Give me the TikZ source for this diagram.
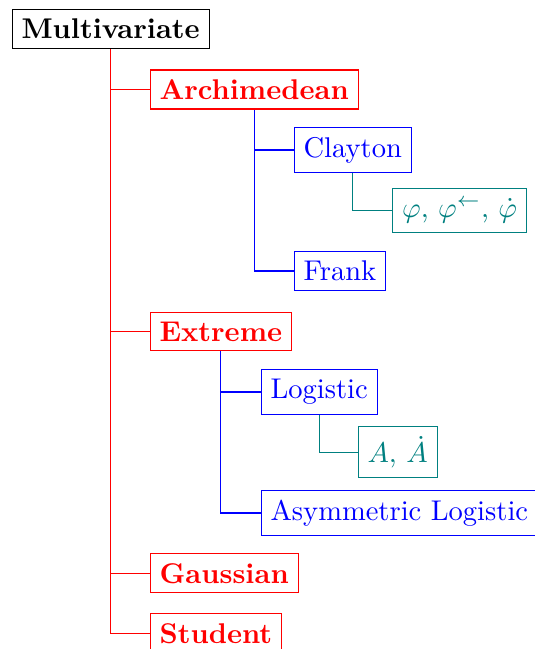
\documentclass[tikz,border=0pt]{standalone}
\begin{document}
\begin{tikzpicture}[x=0.3505pt,y=-0.3505pt,
  box/.style={draw,anchor=west,inner sep=0.3333em},
  lvlzero/.style={box,black,font=\bfseries},
  lvlone/.style={box,red,font=\bfseries},
  lvltwo/.style={box,blue},
  lvlthree/.style={box,teal},
  conn/.style={line width=0.4pt}]
\useasboundingbox (0,0) rectangle (535,649);
\node[lvlzero] (mv) at (11.5,29) {Multivariate};
\node[lvlone] (arch) at (149.5,89.5) {Archimedean};
\node[lvltwo] (clay) at (293.5,150) {Clayton};
\node[lvlthree] (phi) at (392,210.5) {$\varphi$, $\varphi^{\leftarrow}$, $\dot{\varphi}$};
\node[lvltwo] (frank) at (293.5,271) {Frank};
\node[lvlone] (ext) at (149.5,331.5) {Extreme};
\node[lvltwo] (logi) at (260.5,392) {Logistic};
\node[lvlthree] (adot) at (357.5,452.3) {$A$, $\dot{A}$};
\node[lvltwo] (asym) at (260.5,513) {Asymmetric Logistic};
\node[lvlone] (gauss) at (149.5,573.3) {Gaussian};
\node[lvlone] (stud) at (149.5,633.3) {Student};
\draw[conn,red] (mv.south) |- (stud.west)
  (mv.south |- arch.west) -- (arch.west)
  (mv.south |- ext.west) -- (ext.west)
  (mv.south |- gauss.west) -- (gauss.west);
\draw[conn,blue] (arch.south) |- (frank.west)
  (arch.south |- clay.west) -- (clay.west);
\draw[conn,teal] (clay.south) |- (phi.west);
\draw[conn,blue] (ext.south) |- (asym.west)
  (ext.south |- logi.west) -- (logi.west);
\draw[conn,teal] (logi.south) |- (adot.west);
\end{tikzpicture}
\end{document}
